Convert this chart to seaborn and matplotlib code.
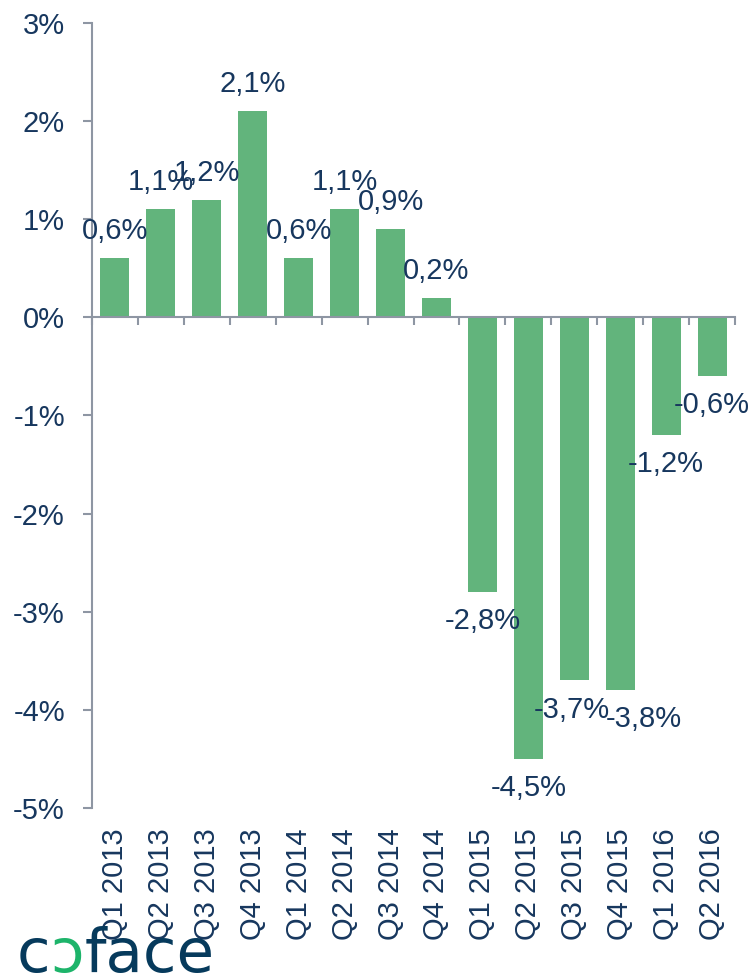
import matplotlib
matplotlib.use("Agg")
import matplotlib.pyplot as plt
import seaborn as sns
import pandas as pd

quarters = ["Q1 2013", "Q2 2013", "Q3 2013", "Q4 2013",
            "Q1 2014", "Q2 2014", "Q3 2014", "Q4 2014",
            "Q1 2015", "Q2 2015", "Q3 2015", "Q4 2015",
            "Q1 2016", "Q2 2016"]
growth = [0.6, 1.1, 1.2, 2.1, 0.6, 1.1, 0.9, 0.2,
          -2.8, -4.5, -3.7, -3.8, -1.2, -0.6]
value_labels = ["0,6%", "1,1%", "1,2%", "2,1%", "0,6%", "1,1%", "0,9%", "0,2%",
                "-2,8%", "-4,5%", "-3,7%", "-3,8%", "-1,2%", "-0,6%"]
ytick_values = [3, 2, 1, 0, -1, -2, -3, -4, -5]
ytick_labels = ["3%", "2%", "1%", "0%", "-1%", "-2%", "-3%", "-4%", "-5%"]

GREEN = "#62B47C"
NAVY = "#17375E"
GRAY = "#8E96A3"
LOGO_BLUE = "#063A5C"
LOGO_GREEN = "#1DB46A"

sns.set_style("white")
plt.rcParams["font.family"] = ["Liberation Sans", "DejaVu Sans"]

W, H = 755, 974
fig = plt.figure(figsize=(W / 100, H / 100), dpi=100)
ax = fig.add_axes([92 / W, 1 - 808 / H, (735 - 92) / W, (808 - 23) / H])

df = pd.DataFrame({"quarter": quarters, "growth": growth})
sns.barplot(data=df, x="quarter", y="growth", color=GREEN, saturation=1,
            width=0.63, linewidth=0, ax=ax)

ax.set_ylim(-5, 3)
ax.set_xlim(-0.5, len(quarters) - 0.5)
ax.set_xlabel("")
ax.set_ylabel("")

for s in ["top", "right"]:
    ax.spines[s].set_visible(False)
ax.spines["left"].set_color(GRAY)
ax.spines["left"].set_linewidth(1.5)
ax.spines["bottom"].set_position(("data", 0))
ax.spines["bottom"].set_color(GRAY)
ax.spines["bottom"].set_linewidth(1.5)

ax.set_yticks(ytick_values)
ax.set_yticklabels(ytick_labels)
ax.tick_params(axis="y", direction="out", length=6.5, width=1.5, color=GRAY,
               pad=13, labelsize=21, labelcolor=NAVY, left=True)

ax.set_xticks(range(len(quarters)))
ax.set_xticklabels([])
ax.tick_params(axis="x", which="major", length=0)
ax.set_xticks([i - 0.5 for i in range(len(quarters) + 1)], minor=True)
ax.tick_params(axis="x", which="minor", direction="out", length=6, width=1.5,
               color=GRAY, bottom=True)

for i, q in enumerate(quarters):
    ax.annotate(q, xy=(i, 0), xycoords=("data", "axes fraction"),
                xytext=(0, -14.4), textcoords="offset points",
                rotation=90, ha="center", va="top", fontsize=21, color=NAVY)

label_dx = [0, 0, 0, 0, 0, 0, 0, 0, 0, 0, -2, 17, 0, 0]
for i, (v, lab) in enumerate(zip(growth, value_labels)):
    dy = 19.5 if v >= 0 else -21
    ax.annotate(lab, xy=(i, v), xycoords="data",
                xytext=(label_dx[i], dy), textcoords="offset points",
                ha="center", va="center", fontsize=21, color=NAVY,
                annotation_clip=False)

# coface logo
t1 = fig.text(17 / W, 1 - 972 / H, "c", fontsize=44, color=LOGO_BLUE,
              family="DejaVu Sans", va="baseline", ha="left")
t2 = ax.annotate("ɔ", xy=(1, 0), xycoords=t1, fontsize=44, color=LOGO_GREEN,
                 family="DejaVu Sans", va="bottom", ha="left", annotation_clip=False)
t3 = ax.annotate("face", xy=(1, 0), xycoords=t2, fontsize=44, color=LOGO_BLUE,
                 family="DejaVu Sans", va="bottom", ha="left", annotation_clip=False)

fig.savefig("out.png", dpi=100)
